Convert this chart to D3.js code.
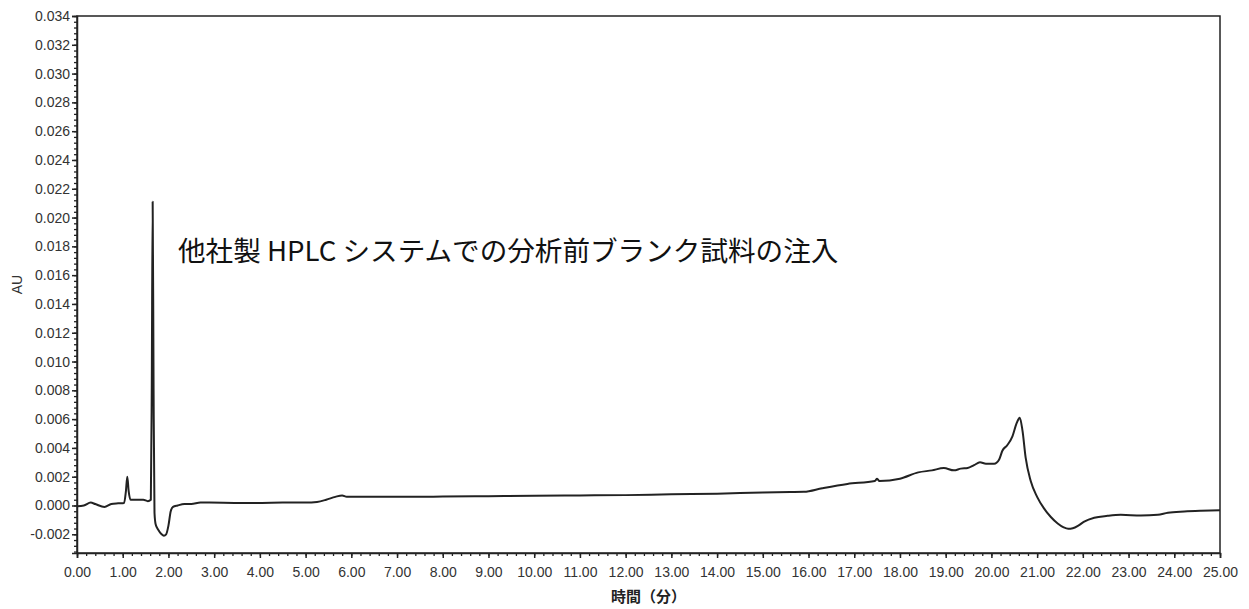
<!DOCTYPE html>
<html>
<head>
<meta charset="utf-8">
<script src="https://cdn.jsdelivr.net/npm/d3@7"></script>
<style>
  html, body { margin: 0; padding: 0; background: #fff; }
  svg { display: block; }
</style>
</head>
<body>
<svg id="chart" width="1249" height="609"></svg>
<script>
// Chromatogram trace: retention time (min) and absorbance (AU)
const timeMin = [
  0, 0.15, 0.3, 0.4, 0.6, 0.75, 0.9, 1.03, 1.07, 1.10, 1.13, 1.17, 1.3, 1.45, 1.55,
  1.615, 1.635, 1.655, 1.675, 1.695, 1.72, 1.78, 1.85, 1.9, 1.95, 2.0, 2.05, 2.1, 2.2,
  2.35, 2.5, 2.7, 2.9, 3.5, 4.0, 4.5, 5.0, 5.25, 5.45, 5.65, 5.8, 5.9, 6.0, 7.0, 8.0,
  9.0, 10.0, 11.0, 12.0, 13.0, 14.0, 15.0, 15.6, 15.9, 16.3, 16.85, 17.45, 17.5, 17.55,
  18.0, 18.4, 18.7, 18.96, 19.18, 19.33, 19.48, 19.62, 19.75, 19.88, 20.06, 20.17,
  20.24, 20.35, 20.46, 20.55, 20.62, 20.68, 20.75, 20.86, 21.0, 21.15, 21.3, 21.45,
  21.58, 21.68, 21.78, 21.9, 22.03, 22.25, 22.54, 22.83, 23.27, 23.64, 23.86, 24.22,
  24.58, 25.0
];
const absorbanceAU = [
  -0.00005, 0.0000, 0.0002, 0.0001, -0.0001, 0.0001, 0.00015, 0.00018, 0.0010, 0.0020, 0.0010, 0.0004, 0.0004, 0.0004, 0.0003,
  0.0004, 0.0080, 0.0211, 0.0080, -0.0005, -0.0013, -0.0017, -0.0020, -0.0021, -0.0020, -0.0014, -0.0004, -0.0001, 0.0000,
  0.0001, 0.0001, 0.0002, 0.0002, 0.00018, 0.00018, 0.0002, 0.0002, 0.00025, 0.0004, 0.0006, 0.0007, 0.0006, 0.0006, 0.0006, 0.00062,
  0.00065, 0.00068, 0.0007, 0.00072, 0.00078, 0.00082, 0.0009, 0.00093, 0.00095, 0.0012, 0.0015, 0.0017, 0.00185, 0.0017,
  0.00186, 0.0023, 0.00244, 0.0026, 0.00244, 0.00256, 0.0026, 0.0028, 0.0030, 0.0029, 0.0029, 0.0032,
  0.0038, 0.0042, 0.0048, 0.0057, 0.0061, 0.0052, 0.0033, 0.0017, 0.0006, -0.0002, -0.0008, -0.00125,
  -0.00152, -0.00162, -0.00158, -0.0014, -0.00112, -0.00085, -0.00072, -0.00065, -0.0007, -0.00065, -0.0005, -0.00042,
  -0.00037, -0.00033
];

// Axis ticks and labels
const xMajorTicks = d3.range(0, 25.001, 1);
const xMinorTicks = d3.range(0, 25.001, 0.2);
const yMajorTicks = d3.range(-0.002, 0.03401, 0.002);
const yMinorTicks = d3.range(-0.0032, 0.03401, 0.0004);
const xAxisTitle = "時間（分）";
const yAxisTitle = "AU";
const annotation = "他社製 HPLC システムでの分析前ブランク試料の注入";

const svg = d3.select("#chart");
const margin = { left: 77, right: 29, top: 16, bottom: 56 };
const W = 1249, H = 609;

const x = d3.scaleLinear().domain([0, 25]).range([margin.left, W - margin.right]);
const y = d3.scaleLinear().domain([-0.0033, 0.034]).range([H - margin.bottom, margin.top]);

const fmtY = v => d3.format(".3f")(v).replace("−", "-");
const fmtX = v => d3.format(".2f")(v);

// Plot frame
svg.append("rect")
  .attr("x", x(0)).attr("y", y(0.034))
  .attr("width", x(25) - x(0)).attr("height", y(-0.0033) - y(0.034))
  .attr("fill", "none").attr("stroke", "#222").attr("stroke-width", 1.5);

const tickFont = "'Liberation Sans', Arial, sans-serif";

// X axis: minor then major ticks
const xMinor = d3.axisBottom(x).tickValues(xMinorTicks).tickSize(3).tickFormat("");
svg.append("g").attr("transform", `translate(0,${y(-0.0033)})`).call(xMinor)
  .call(g => g.select(".domain").remove())
  .call(g => g.selectAll("line").attr("stroke", "#222").attr("stroke-width", 1.3));
const xMajor = d3.axisBottom(x).tickValues(xMajorTicks).tickSize(5).tickPadding(9).tickFormat(fmtX);
svg.append("g").attr("transform", `translate(0,${y(-0.0033)})`).call(xMajor)
  .call(g => g.select(".domain").attr("stroke", "#222").attr("stroke-width", 1.5))
  .call(g => g.selectAll("line").attr("stroke", "#222").attr("stroke-width", 1.5))
  .call(g => g.selectAll("text").attr("font-family", tickFont).attr("font-size", 14).attr("fill", "#333"));

// Y axis: minor then major ticks
const yMinor = d3.axisLeft(y).tickValues(yMinorTicks).tickSize(3).tickFormat("");
svg.append("g").attr("transform", `translate(${x(0)},0)`).call(yMinor)
  .call(g => g.select(".domain").remove())
  .call(g => g.selectAll("line").attr("stroke", "#222").attr("stroke-width", 1.3));
const yMajor = d3.axisLeft(y).tickValues(yMajorTicks).tickSize(5).tickPadding(2).tickFormat(fmtY);
svg.append("g").attr("transform", `translate(${x(0)},0)`).call(yMajor)
  .call(g => g.select(".domain").attr("stroke", "#222").attr("stroke-width", 1.5))
  .call(g => g.selectAll("line").attr("stroke", "#222").attr("stroke-width", 1.5))
  .call(g => g.selectAll("text").attr("font-family", tickFont).attr("font-size", 14).attr("fill", "#333"));

// Axis titles
svg.append("text")
  .attr("x", (x(0) + x(25)) / 2).attr("y", 602)
  .attr("text-anchor", "middle")
  .attr("font-family", "'Noto Sans CJK JP', sans-serif")
  .attr("font-size", 15).attr("font-weight", 700).attr("fill", "#222")
  .text(xAxisTitle);
svg.append("text")
  .attr("transform", `translate(22,${(y(-0.0033) + y(0.034)) / 2}) rotate(-90)`)
  .attr("text-anchor", "middle")
  .attr("font-family", tickFont)
  .attr("font-size", 14).attr("fill", "#333")
  .text(yAxisTitle);

// Trace
const data = timeMin.map((t, i) => [t, absorbanceAU[i]]);
const line = d3.line().x(d => x(d[0])).y(d => y(d[1])).curve(d3.curveMonotoneX);
svg.append("path").datum(data)
  .attr("d", line)
  .attr("fill", "none").attr("stroke", "#222").attr("stroke-width", 2)
  .attr("stroke-linejoin", "round");

// Annotation
svg.append("text")
  .attr("x", 178).attr("y", 261)
  .attr("font-family", "'Noto Sans CJK JP', sans-serif")
  .attr("font-size", 27.6).attr("fill", "#111")
  .text(annotation);
</script>
</body>
</html>
